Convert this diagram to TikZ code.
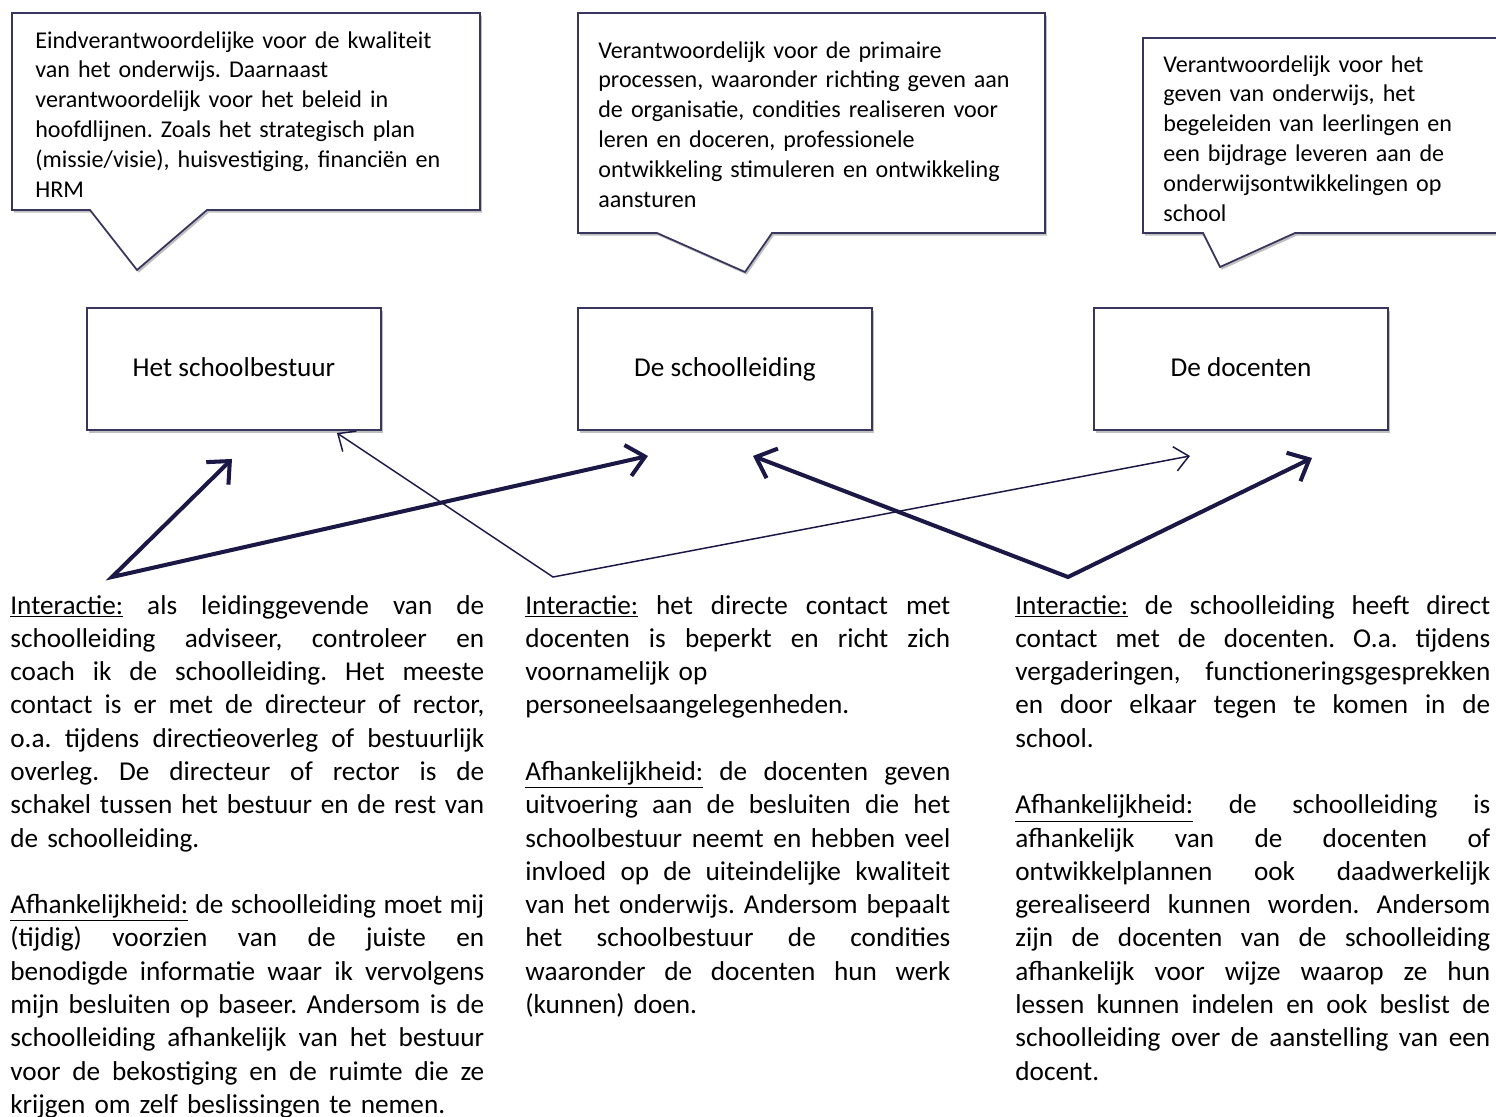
\documentclass[tikz,border=0pt]{standalone}
\usepackage{fontspec}
\setmainfont{Carlito}
\usetikzlibrary{arrows.meta,calc,shadows}

\definecolor{rand}{RGB}{56,54,92}
\definecolor{pijlkleur}{RGB}{28,24,70}

% one justified line of a column
\newlength{\kolombreedte}
\newcommand{\uitvul}[1]{\leavevmode\hbox to \kolombreedte{\spaceskip=\fontdimen2\font plus 1fil minus 0.08em\xspaceskip=\spaceskip #1}}

\begin{document}
\frenchspacing
\begin{tikzpicture}
	% Styles
	[
	x=0.02cm, y=-0.02cm,
	schaduw/.style={drop shadow={shadow xshift=1pt,shadow yshift=-1.5pt,opacity=0.25,fill=black}},
	ballon/.style={draw=rand, line width=1pt, fill=white, schaduw},
	ballontekst/.style={anchor=base west, inner sep=0pt, align=left, text width=9cm, font=\fontsize{13.7}{17}\selectfont},
	rol/.style={draw=rand, line width=1.1pt, fill=white, minimum width=5.88cm, minimum height=2.44cm, text height=1.15em, text depth=0.25em, font=\fontsize{15.5}{18}\selectfont, schaduw},
	kolom/.style={anchor=base west, inner sep=0pt, align=left, text width=#1, execute at begin node={\setlength{\kolombreedte}{#1}}, font=\fontsize{15.5}{18.95}\selectfont},
	dikkepijl/.style={draw=pijlkleur, line width=2.3pt, {Straight Barb[length=10pt,width=18pt]}-{Straight Barb[length=10pt,width=18pt]}},
	dunnepijl/.style={draw=pijlkleur, line width=0.85pt, {Straight Barb[length=8pt,width=14pt]}-{Straight Barb[length=8pt,width=14pt]}},
	]
	\useasboundingbox (0,0) rectangle (1496,1116);

	% Callouts
	\path[ballon] (12,13) -- (480,13) -- (480,210) -- (207,210) -- (137,270) -- (90,210) -- (12,210) -- cycle;
	\path[ballon] (578,13) -- (1045,13) -- (1045,233) -- (772,233) -- (745,272) -- (657,233) -- (578,233) -- cycle;
	\path[ballon] (1143,38) -- (1520,38) -- (1520,233) -- (1295,233) -- (1220,267) -- (1203,233) -- (1143,233) -- cycle;

	\node at (35,48)	(tekstbestuur)	[ballontekst] {Eindverantwoordelijke voor de kwaliteit\\van het onderwijs. Daarnaast\\verantwoordelijk voor het beleid in\\hoofdlijnen. Zoals het strategisch plan\\(missie/visie), huisvestiging, financiën en\\HRM};
	\node at (598,58)	(tekstleiding)	[ballontekst] {Verantwoordelijk voor de primaire\\processen, waaronder richting geven aan\\de organisatie, condities realiseren voor\\leren en doceren, professionele\\ontwikkeling stimuleren en ontwikkeling\\aansturen};
	\node at (1163,72)	(tekstdocent)	[ballontekst] {Verantwoordelijk voor het\\geven van onderwijs, het\\begeleiden van leerlingen en\\een bijdrage leveren aan de\\onderwijsontwikkelingen op\\school};

	% Nodes
	\node at (234,369)	(bestuur)	[rol] {Het schoolbestuur};
	\node at (725,369)	(leiding)	[rol] {De schoolleiding};
	\node at (1241,369)	(docenten)	[rol] {De docenten};

	\coordinate (knikbestuur) at (112,577);
	\coordinate (knikleiding) at (553,577);
	\coordinate (knikdocent) at (1068,577);

	% Connections
	\draw[dunnepijl] ($(bestuur.south east)+(-45,2)$) -- (knikleiding) -- ($(docenten.south)+(-51,25)$);
	\draw[dikkepijl] ($(bestuur.south)+(-2,28)$) -- (knikbestuur) -- ($(leiding.south)+(-77,25)$);
	\draw[dikkepijl] ($(leiding.south)+(28,25)$) -- (knikdocent) -- ($(docenten.south)+(71,27)$);

	% Columns
	\node at (10,614)	(kolombestuur)	[kolom=9.48cm] {%
		\uitvul{\underline{Interactie:} als leidinggevende van de}\\
		\uitvul{schoolleiding adviseer, controleer en}\\
		\uitvul{coach ik de schoolleiding. Het meeste}\\
		\uitvul{contact is er met de directeur of rector,}\\
		\uitvul{o.a. tijdens directieoverleg of bestuurlijk}\\
		\uitvul{overleg. De directeur of rector is de}\\
		\uitvul{schakel tussen het bestuur en de rest van}\\
		de schoolleiding.\\[\baselineskip]
		\uitvul{\underline{Afhankelijkheid:} de schoolleiding moet mij}\\
		\uitvul{(tijdig) voorzien van de juiste en}\\
		\uitvul{benodigde informatie waar ik vervolgens}\\
		\uitvul{mijn besluiten op baseer. Andersom is de}\\
		\uitvul{schoolleiding afhankelijk van het bestuur}\\
		\uitvul{voor de bekostiging en de ruimte die ze}\\
		krijgen om zelf beslissingen te nemen.};
	\node at (525,614)	(kolomleiding)	[kolom=8.5cm] {%
		\uitvul{\underline{Interactie:} het directe contact met}\\
		\uitvul{docenten is beperkt en richt zich}\\
		voornamelijk op\\
		personeelsaangelegenheden.\\[\baselineskip]
		\uitvul{\underline{Afhankelijkheid:} de docenten geven}\\
		\uitvul{uitvoering aan de besluiten die het}\\
		\uitvul{schoolbestuur neemt en hebben veel}\\
		\uitvul{invloed op de uiteindelijke kwaliteit}\\
		\uitvul{van het onderwijs. Andersom bepaalt}\\
		\uitvul{het schoolbestuur de condities}\\
		\uitvul{waaronder de docenten hun werk}\\
		(kunnen) doen.};
	\node at (1015,614)	(kolomdocent)	[kolom=9.5cm] {%
		\uitvul{\underline{Interactie:} de schoolleiding heeft direct}\\
		\uitvul{contact met de docenten. O.a. tijdens}\\
		\uitvul{vergaderingen, functioneringsgesprekken}\\
		\uitvul{en door elkaar tegen te komen in de}\\
		school.\\[\baselineskip]
		\uitvul{\underline{Afhankelijkheid:} de schoolleiding is}\\
		\uitvul{afhankelijk van de docenten of}\\
		\uitvul{ontwikkelplannen ook daadwerkelijk}\\
		\uitvul{gerealiseerd kunnen worden. Andersom}\\
		\uitvul{zijn de docenten van de schoolleiding}\\
		\uitvul{afhankelijk voor wijze waarop ze hun}\\
		\uitvul{lessen kunnen indelen en ook beslist de}\\
		\uitvul{schoolleiding over de aanstelling van een}\\
		docent.};

\end{tikzpicture}
\end{document}
